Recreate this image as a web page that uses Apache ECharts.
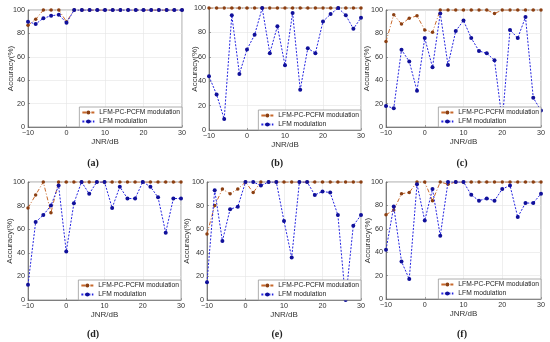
<!DOCTYPE html>
<html>
<head>
<meta charset="utf-8">
<script src="https://cdn.jsdelivr.net/npm/echarts@6/dist/echarts.min.js"></script>
<style>html,body{margin:0;padding:0;background:#fff;}#c{width:550px;height:342px;}</style>
</head>
<body>
<div id="c"></div>
<script>
const jnr = [-10,-8,-6,-4,-2,0,2,4,6,8,10,12,14,16,18,20,22,24,26,28,30];
const xTicks = [-10,0,10,20,30];
const yTicks = [0,20,40,60,80,100];
const seriesNames = ['LFM-PC-PCFM modulation','LFM modulation'];
const panelLabels = ['(a)','(b)','(c)','(d)','(e)','(f)'];

const a_pc  = [87,92,100,100,100,90,100,100,100,100,100,100,100,100,100,100,100,100,100,100,100];
const a_lfm = [90,88,93,95,96,89,100,100,100,100,100,100,100,100,100,100,100,100,100,100,100];
const b_pc  = [100,100,100,100,100,100,100,100,100,100,100,100,100,100,100,100,100,100,100,100,100];
const b_lfm = [44,29,9,94,46,66,78,100,63,85,53,96,33,67,63,89,95,100,94,83,92];
const c_pc  = [73,96,88,93,95,83,81,100,100,100,100,100,100,100,97,100,100,100,100,100,100];
const c_lfm = [18,16,66,56,31,76,51,97,53,82,91,76,65,63,57,5,83,76,94,25,14];
const d_pc  = [78,89,100,74,100,100,100,100,100,100,100,100,100,100,100,100,100,100,100,100,100];
const d_lfm = [13,66,72,80,97,41,82,100,90,100,100,78,96,86,86,100,96,87,57,86,86];
const e_pc  = [56,80,94,90,94,100,91,100,100,100,100,100,100,100,100,100,100,100,100,100,100];
const e_lfm = [15,93,50,77,79,100,100,97,100,100,67,36,100,100,89,92,91,72,0,63,72];
const f_pc  = [72,76,90,91,100,100,84,100,98,100,100,100,100,100,100,100,100,100,100,100,100];
const f_lfm = [42,79,32,17,98,67,94,54,100,100,100,89,84,86,84,94,97,70,82,82,90];

const pcData = [a_pc,b_pc,c_pc,d_pc,e_pc,f_pc];
const lfmData = [a_lfm,b_lfm,c_lfm,d_lfm,e_lfm,f_lfm];

// layout of panels [left, top, width, height]
const boxes = [
  [28, 10, 154, 117],
  [209, 8, 152, 122],
  [386, 10, 155, 117],
  [28, 182, 153, 118],
  [207, 182, 154, 118],
  [386, 182, 155, 117]
];
const yNameGaps = [13, 10, 15, 14, 16, 14];
const capPos = [[93,158],[277,158],[462,158],[93,329],[277,329],[462,329]];

const FONT = 'Liberation Sans, Arial, sans-serif';
const grid = [], xAxis = [], yAxis = [], series = [], legend = [], title = [];
boxes.forEach((b,i)=>{
  grid.push({left:b[0], top:b[1], width:b[2], height:b[3], show:true, borderColor:'#8a8a8a', borderWidth:0.8, backgroundColor:'transparent', containLabel:false});
  xAxis.push({
    type:'value', gridIndex:i, min:-10, max:30, interval:10,
    name:'JNR/dB', nameLocation:'middle', nameGap:11, nameMoveOverlap:false,
    nameTextStyle:{fontSize:8, color:'#333', fontFamily:FONT},
    axisLine:{show:true, onZero:false, lineStyle:{color:'#666', width:0.8}},
    axisTick:{show:true, inside:true, length:2, lineStyle:{color:'#666', width:0.6}},
    axisLabel:{fontSize:7.2, color:'#333', margin:3, fontFamily:FONT, formatter:v=>String(v).replace('-','\u2212')},
    splitLine:{show:true, lineStyle:{color:'#e4e4e4', width:0.6}}
  });
  yAxis.push({
    type:'value', gridIndex:i, min:0, max:100, interval:20,
    name:'Accuracy(%)', nameLocation:'middle', nameGap:yNameGaps[i], nameRotate:90, nameMoveOverlap:false,
    nameTextStyle:{fontSize:8, color:'#333', fontFamily:FONT},
    axisLine:{show:true, onZero:false, lineStyle:{color:'#666', width:0.8}},
    axisTick:{show:true, inside:true, length:2, lineStyle:{color:'#666', width:0.6}},
    axisLabel:{fontSize:7.2, color:'#333', margin:3, fontFamily:FONT},
    splitLine:{show:true, lineStyle:{color:'#e4e4e4', width:0.6}}
  });
  const pcName = seriesNames[0], lfmName = seriesNames[1];
  series.push({
    name:pcName, type:'line', xAxisIndex:i, yAxisIndex:i,
    data:jnr.map((x,k)=>[x,pcData[i][k]]),
    symbol:'circle', symbolSize:3.5,
    itemStyle:{color:'#8b3f12'},
    lineStyle:{color:'#c8692c', width:1, type:[4,2,1,2]},
    animation:false, z:2
  });
  series.push({
    name:lfmName, type:'line', xAxisIndex:i, yAxisIndex:i,
    data:jnr.map((x,k)=>[x,lfmData[i][k]]),
    symbol:'circle', symbolSize:4,
    itemStyle:{color:'#10109a'},
    lineStyle:{color:'#2424e0', width:1, type:[2,1.5]},
    animation:false, z:3
  });
  legend.push({
    data:[pcName, lfmName], orient:'vertical',
    right: 550 - (b[0]+b[2]) , bottom: 342 - (b[1]+b[3]),
    itemWidth:12, itemHeight:5, itemGap:2,
    padding:[2,2,2,2],
    backgroundColor:'#fff', borderColor:'#9a9a9a', borderWidth:0.8,
    textStyle:{fontSize:6.7, color:'#222', fontFamily:FONT},
    selectedMode:false
  });
  title.push({
    text:panelLabels[i], left:capPos[i][0], top:capPos[i][1], textAlign:'center', padding:0,
    textStyle:{fontSize:10, fontWeight:'bold', color:'#222', fontFamily:'Liberation Serif, Times New Roman, serif'}
  });
});

const chart = echarts.init(document.getElementById('c'), null, {renderer:'canvas'});
chart.setOption({animation:false, backgroundColor:'#fff', grid, xAxis, yAxis, series, legend, title});
</script>
</body>
</html>
